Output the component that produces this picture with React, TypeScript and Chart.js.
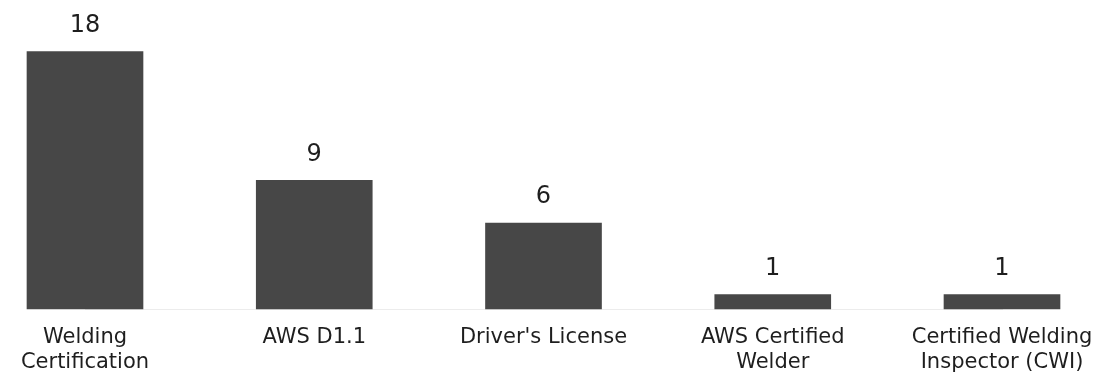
import React, { useEffect, useRef } from "react";
import { Chart, registerables } from "chart.js";

Chart.register(...registerables);

const categories: (string | string[])[] = [
  ["Welding", "Certification"],
  "AWS D1.1",
  "Driver's License",
  ["AWS Certified", "Welder"],
  ["Certified Welding", "Inspector (CWI)"],
];
const counts: number[] = [18, 9, 6, 1, 1];

const FONT = "'DejaVu Sans', sans-serif";

const valueLabels = {
  id: "valueLabels",
  afterDatasetsDraw(chart: any) {
    const ctx = chart.ctx;
    const meta = chart.getDatasetMeta(0);
    ctx.save();
    ctx.font = `24px ${FONT}`;
    ctx.fillStyle = "#1e1e1e";
    ctx.textAlign = "center";
    ctx.textBaseline = "middle";
    meta.data.forEach((bar: any, i: number) => {
      ctx.fillText(String(counts[i]), bar.x, bar.y - 26);
    });
    ctx.restore();
  },
};

export default function App() {
  const ref = useRef<HTMLCanvasElement>(null);
  useEffect(() => {
    if (!ref.current) return;
    const chart = new Chart(ref.current, {
      type: "bar",
      data: {
        labels: categories,
        datasets: [
          {
            data: counts,
            backgroundColor: "#474747",
            borderWidth: 0,
            barThickness: 116,
            clip: false as any,
          },
        ],
      },
      options: {
        animation: false,
        responsive: true,
        maintainAspectRatio: false,
        layout: { padding: { left: 85, right: 107, top: 23, bottom: 0 } },
        plugins: { legend: { display: false }, tooltip: { enabled: false } },
        scales: {
          x: {
            offset: false,
            grid: { display: false },
            border: { display: true, color: "#ececec", width: 1 },
            ticks: {
              color: "#1e1e1e",
              font: { family: FONT, size: 21, lineHeight: 1.2 },
              padding: 8,
              maxRotation: 0,
              autoSkip: false,
            },
            afterFit: (scale: any) => {
              scale.height = 83;
              scale.paddingLeft = 0;
              scale.paddingRight = 0;
            },
          },
          y: {
            display: false,
            min: 0,
            max: 20,
          },
        },
      },
      plugins: [valueLabels],
    });
    return () => chart.destroy();
  }, []);
  return (
    <div style={{ position: "absolute", left: 0, top: 0, width: 1109, height: 392, background: "#fff" }}>
      <canvas ref={ref} />
    </div>
  );
}
